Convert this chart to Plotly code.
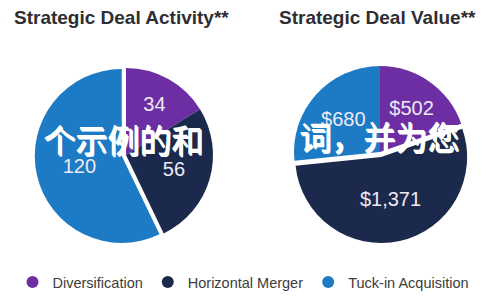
import plotly.graph_objects as go

categories = ["Diversification", "Horizontal Merger", "Tuck-in Acquisition"]
deal_counts = [34, 56, 120]
deal_values = [502, 1371, 680]
titles = ["Strategic Deal Activity**", "Strategic Deal Value**"]
watermark_left = "个示例的和"
watermark_right = "词，并为您"

colors = ["#6d2ea3", "#1b2a4c", "#1c7bc4"]
label_font = dict(family="Liberation Sans, Arial, sans-serif", size=20, color="#eeeaf5")

# page body has an 8px margin; the figure fills the rest of the 500x300 window
W, H = 492, 292

fig = go.Figure()

fig.add_trace(go.Pie(
    labels=categories, values=deal_counts,
    sort=False, direction="clockwise", rotation=0,
    marker=dict(colors=colors, line=dict(width=0)),
    pull=[0, 0, 0.05],
    texttemplate="%{value}",
    textposition="inside", insidetextorientation="horizontal",
    textfont=label_font,
    domain=dict(x=[0.0542, 0.4255], y=[0.1837, 0.8094]),
    showlegend=False, hoverinfo="label+value",
))

fig.add_trace(go.Pie(
    labels=categories, values=deal_values,
    sort=False, direction="clockwise", rotation=0,
    marker=dict(colors=colors, line=dict(width=0)),
    pull=[0, 0.06, 0],
    texttemplate="$%{value:,}",
    textposition="inside", insidetextorientation="horizontal",
    textfont=label_font,
    domain=dict(x=[0.5708, 0.9414], y=[0.1947, 0.8190]),
    showlegend=False, hoverinfo="label+value",
))

# legend entries with circle symbols
for name, c in zip(categories, colors):
    fig.add_trace(go.Scatter(
        x=[None], y=[None], mode="markers", name=name,
        marker=dict(symbol="circle", size=13, color=c),
        showlegend=True,
    ))

title_font = dict(family="Liberation Sans, Arial, sans-serif", size=19, color="#2e2e33")
fig.add_annotation(text="<b>%s</b>" % titles[0], x=0.2297, y=0.968, xref="paper", yref="paper",
                   showarrow=False, font=title_font, xanchor="center", yanchor="middle")
fig.add_annotation(text="<b>%s</b>" % titles[1], x=0.752, y=0.968, xref="paper", yref="paper",
                   showarrow=False, font=title_font, xanchor="center", yanchor="middle")

wm_font = dict(family="Noto Sans CJK SC", size=32, color="#ffffff",
               shadow="0.7px 0.7px 0 #ffffff, -0.7px -0.7px 0 #ffffff")
fig.add_annotation(text=watermark_left, x=0.4024, y=0.553, xref="paper", yref="paper",
                   showarrow=False, font=wm_font, xanchor="right", yanchor="middle")
fig.add_annotation(text=watermark_right, x=0.9228, y=0.563, xref="paper", yref="paper",
                   showarrow=False, font=wm_font, xanchor="right", yanchor="middle")

fig.update_layout(
    width=W, height=H,
    margin=dict(l=0, r=0, t=0, b=0),
    paper_bgcolor="#ffffff", plot_bgcolor="#ffffff",
    xaxis=dict(visible=False), yaxis=dict(visible=False),
    legend=dict(orientation="h", x=0.4787, xanchor="center", y=0.0616, yanchor="middle",
                font=dict(family="Liberation Sans, Arial, sans-serif", size=14.5, color="#3c3c3c"),
                itemsizing="constant", bgcolor="rgba(0,0,0,0)"),
)

fig.write_html("out.html")
